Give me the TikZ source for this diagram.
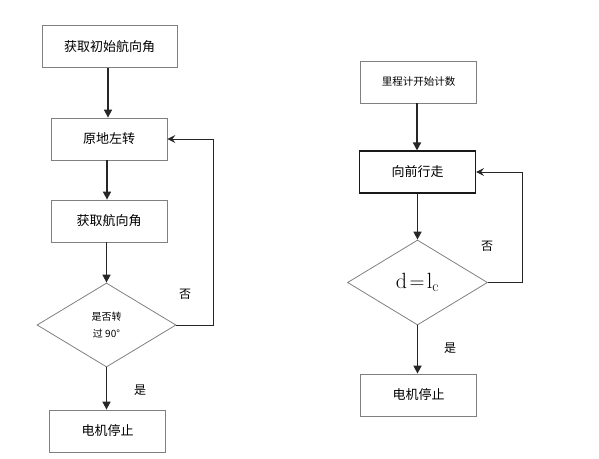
\documentclass[tikz,border=0pt]{standalone}
\usepackage{fontspec}
\newfontfamily\cjk{Noto Sans CJK SC}
\usetikzlibrary{shapes.geometric,arrows.meta}
\tikzset{
  procbox/.style={draw=black!50,line width=0.8pt,minimum width=116pt,minimum height=42pt,inner sep=0pt,font=\cjk\fontsize{13}{15}\selectfont},
  testbox/.style={diamond,draw=black!50,line width=0.8pt,minimum width=139pt,minimum height=84pt,inner sep=0pt,aspect=1.65},
  flowarrow/.style={-{Triangle[length=8pt,width=8pt]},line width=1.6pt,black!85},
  backarrow/.style={-{Stealth[length=8pt,width=8pt,inset=3pt]},line width=1pt,black!85},
  tag/.style={font=\cjk\fontsize{12}{14}\selectfont}
}
\begin{document}
\begin{tikzpicture}[x=1pt,y=-1pt]
        \useasboundingbox (0,0) rectangle (599,458);
        % left flow
        \node[procbox,minimum width=135pt] (init) at (109.5,46.5) {获取初始航向角};
        \node[procbox] (turn) at (109,139) {原地左转};
        \node[procbox] (head) at (109,221) {获取航向角};
        \node[testbox] (check) at (106.5,325) {\cjk\fontsize{10}{20}\selectfont\shortstack{是否转\\[4pt]过 90°}};
        \node[procbox] (stopl) at (107.5,431) {电机停止};
        \draw[flowarrow] (init.south -| 108,0) -- (turn.north -| 108,0);
        \draw[flowarrow] (turn.south -| 107,0) -- (head.north -| 107,0);
        \draw[flowarrow] (head.south -| 106.5,0) -- (check.north);
        \draw[flowarrow] (check.south) -- (stopl.north -| check.south);
        \draw[backarrow] (check.east) -- (213,325) -- (213,139) -- (turn.east);
        \node[tag] (nol) at (185,294) {否};
        \node[tag] (yesl) at (140,390) {是};
        % right flow
        \node[procbox,font=\cjk\fontsize{10.5}{13}\selectfont] (odo) at (418.5,82) {里程计开始计数};
        \node[procbox,draw=black!90,line width=1.1pt] (fwd) at (417.5,172) {向前行走};
        \node[testbox,minimum width=140pt,minimum height=85pt] (dist) at (417.5,282.5) {\fontsize{22}{24}\selectfont$\mathrm{d}\!=\!\mathrm{l_c}$};
        \node[procbox] (stopr) at (418.5,395) {电机停止};
        \draw[flowarrow] (odo.south -| 417,0) -- (fwd.north -| 417,0);
        \draw[flowarrow] (fwd.south -| 417.5,0) -- (dist.north);
        \draw[flowarrow] (dist.south) -- (stopr.north -| dist.south);
        \draw[backarrow] (dist.east) -- (522,282.5) -- (522,172) -- (fwd.east);
        \node[tag] (nor) at (487,246) {否};
        \node[tag] (yesr) at (450,348) {是};
\end{tikzpicture}
\end{document}
